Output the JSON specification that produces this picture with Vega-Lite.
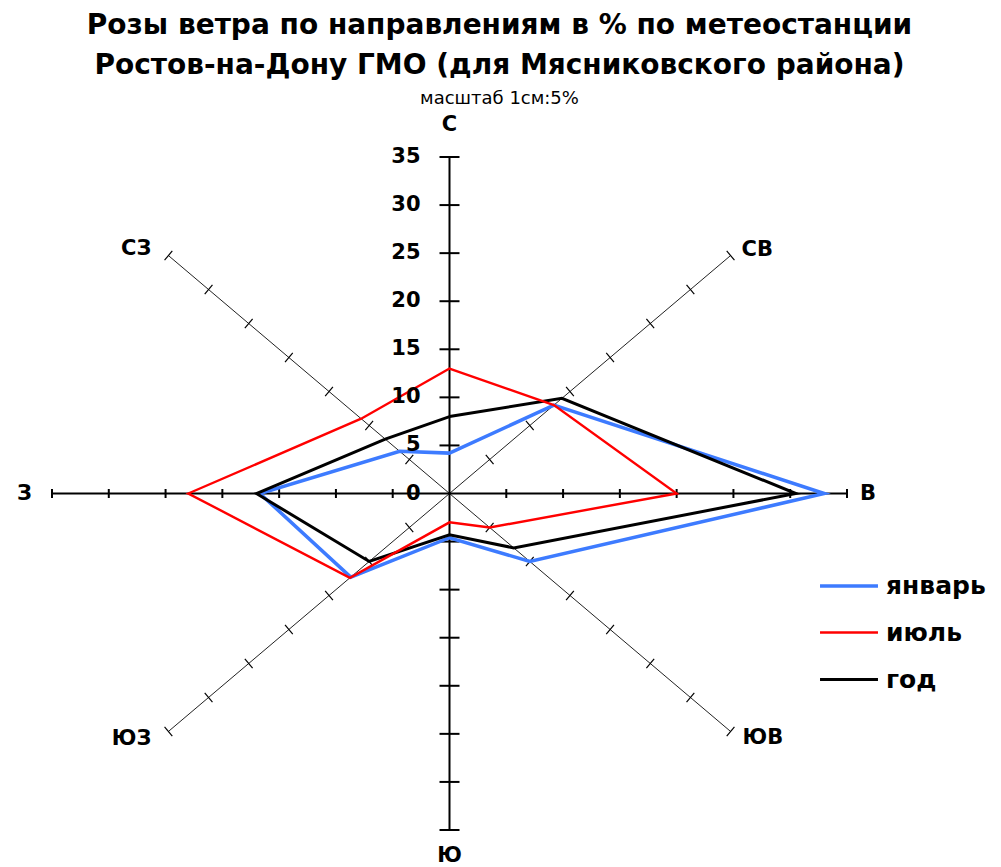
{
  "$schema": "https://vega.github.io/schema/vega-lite/v6.json",
  "width": 795,
  "height": 673,
  "autosize": {"type": "none"},
  "padding": {"left": 52, "top": 157, "right": 154, "bottom": 37},
  "background": "white",
  "config": {"view": {"stroke": null}, "font": "DejaVu Sans"},
  "title": {
    "text": ["Розы ветра по направлениям в % по метеостанции", "Ростов-на-Дону ГМО (для Мясниковского района)"],
    "subtitle": "масштаб 1см:5%",
    "font": "DejaVu Sans",
    "fontSize": 28,
    "fontWeight": "bold",
    "lineHeight": 40,
    "color": "black",
    "subtitleFont": "DejaVu Sans",
    "subtitleFontSize": 18,
    "subtitleColor": "black",
    "subtitlePadding": 10,
    "anchor": "middle",
    "frame": "group",
    "offset": 6,
    "dx": 50
  },
  "datasets": {
    "dirs": [
      {"dir": "С", "angle": 90, "i": 0},
      {"dir": "СВ", "angle": 45, "i": 1},
      {"dir": "В", "angle": 0, "i": 2},
      {"dir": "ЮВ", "angle": -45, "i": 3},
      {"dir": "Ю", "angle": -90, "i": 4},
      {"dir": "ЮЗ", "angle": -135, "i": 5},
      {"dir": "З", "angle": 180, "i": 6},
      {"dir": "СЗ", "angle": 135, "i": 7}
    ],
    "scalemarks": [
      {"v": -35}, {"v": -30}, {"v": -25}, {"v": -20}, {"v": -15}, {"v": -10}, {"v": -5},
      {"v": 0},
      {"v": 5}, {"v": 10}, {"v": 15}, {"v": 20}, {"v": 25}, {"v": 30}, {"v": 35}
    ],
    "rose": [
      {"series": "январь", "dir": "С", "v": 4.2},
      {"series": "январь", "dir": "СВ", "v": 13},
      {"series": "январь", "dir": "В", "v": 33},
      {"series": "январь", "dir": "ЮВ", "v": 10},
      {"series": "январь", "dir": "Ю", "v": 4.6},
      {"series": "январь", "dir": "ЮЗ", "v": 12.3},
      {"series": "январь", "dir": "З", "v": 16.7},
      {"series": "январь", "dir": "СЗ", "v": 6.2},
      {"series": "год", "dir": "С", "v": 8},
      {"series": "год", "dir": "СВ", "v": 14},
      {"series": "год", "dir": "В", "v": 30.5},
      {"series": "год", "dir": "ЮВ", "v": 8},
      {"series": "год", "dir": "Ю", "v": 4.3},
      {"series": "год", "dir": "ЮЗ", "v": 10},
      {"series": "год", "dir": "З", "v": 17},
      {"series": "год", "dir": "СЗ", "v": 8},
      {"series": "июль", "dir": "С", "v": 13},
      {"series": "июль", "dir": "СВ", "v": 13},
      {"series": "июль", "dir": "В", "v": 20},
      {"series": "июль", "dir": "ЮВ", "v": 5},
      {"series": "июль", "dir": "Ю", "v": 3},
      {"series": "июль", "dir": "ЮЗ", "v": 12.4},
      {"series": "июль", "dir": "З", "v": 23},
      {"series": "июль", "dir": "СЗ", "v": 11}
    ]
  },
  "layer": [
    {
      "data": {"name": "dirs"},
      "transform": [
        {"filter": "datum.angle % 90 != 0"},
        {"calculate": "35*cos(datum.angle*PI/180)", "as": "ex"},
        {"calculate": "35*sin(datum.angle*PI/180)", "as": "ey"},
        {"calculate": "0", "as": "ox"}
      ],
      "mark": {"type": "rule", "color": "#222222", "strokeWidth": 1},
      "encoding": {
        "x": {"field": "ox", "type": "quantitative", "scale": {"domain": [-35, 35], "nice": false, "zero": false}, "axis": null},
        "y": {"field": "ox", "type": "quantitative", "scale": {"domain": [-35, 35], "nice": false, "zero": false}, "axis": null},
        "x2": {"field": "ex"},
        "y2": {"field": "ey"}
      }
    },
    {
      "data": {"name": "dirs"},
      "transform": [
        {"filter": "datum.angle % 90 == 0"},
        {"calculate": "35*cos(datum.angle*PI/180)", "as": "fx"},
        {"calculate": "35*sin(datum.angle*PI/180)", "as": "fy"},
        {"calculate": "0", "as": "oz"}
      ],
      "mark": {"type": "rule", "color": "black", "strokeWidth": 2},
      "encoding": {
        "x": {"field": "oz", "type": "quantitative", "scale": {"domain": [-35, 35], "nice": false, "zero": false}, "axis": null},
        "y": {"field": "oz", "type": "quantitative", "scale": {"domain": [-35, 35], "nice": false, "zero": false}, "axis": null},
        "x2": {"field": "fx"},
        "y2": {"field": "fy"}
      }
    },
    {
      "data": {"name": "scalemarks"},
      "transform": [
        {"filter": "datum.v != 0"},
        {"calculate": "0", "as": "vx"},
        {"calculate": "datum.v", "as": "vy"}
      ],
      "mark": {"type": "point", "shape": "stroke", "size": 400, "angle": 0, "strokeWidth": 2, "color": "black", "opacity": 1},
      "encoding": {
        "x": {"field": "vx", "type": "quantitative", "scale": {"domain": [-35, 35], "nice": false, "zero": false}, "axis": null},
        "y": {"field": "vy", "type": "quantitative", "scale": {"domain": [-35, 35], "nice": false, "zero": false}, "axis": null}
      }
    },
    {
      "data": {"name": "scalemarks"},
      "transform": [
        {"filter": "datum.v != 0"},
        {"calculate": "datum.v", "as": "hx"},
        {"calculate": "0", "as": "hy"}
      ],
      "mark": {"type": "point", "shape": "stroke", "size": 81, "angle": 90, "strokeWidth": 2, "color": "black", "opacity": 1},
      "encoding": {
        "x": {"field": "hx", "type": "quantitative", "scale": {"domain": [-35, 35], "nice": false, "zero": false}, "axis": null},
        "y": {"field": "hy", "type": "quantitative", "scale": {"domain": [-35, 35], "nice": false, "zero": false}, "axis": null}
      }
    },
    {
      "data": {"name": "scalemarks"},
      "transform": [
        {"filter": "datum.v != 0"},
        {"calculate": "datum.v*cos(PI/4)", "as": "ax"},
        {"calculate": "datum.v*sin(PI/4)", "as": "ay"}
      ],
      "mark": {"type": "point", "shape": "stroke", "size": 144, "angle": 49.8, "strokeWidth": 1.2, "color": "black", "opacity": 1},
      "encoding": {
        "x": {"field": "ax", "type": "quantitative", "scale": {"domain": [-35, 35], "nice": false, "zero": false}, "axis": null},
        "y": {"field": "ay", "type": "quantitative", "scale": {"domain": [-35, 35], "nice": false, "zero": false}, "axis": null}
      }
    },
    {
      "data": {"name": "scalemarks"},
      "transform": [
        {"filter": "datum.v != 0"},
        {"calculate": "-datum.v*cos(PI/4)", "as": "bx"},
        {"calculate": "datum.v*sin(PI/4)", "as": "by"}
      ],
      "mark": {"type": "point", "shape": "stroke", "size": 144, "angle": -49.8, "strokeWidth": 1.2, "color": "black", "opacity": 1},
      "encoding": {
        "x": {"field": "bx", "type": "quantitative", "scale": {"domain": [-35, 35], "nice": false, "zero": false}, "axis": null},
        "y": {"field": "by", "type": "quantitative", "scale": {"domain": [-35, 35], "nice": false, "zero": false}, "axis": null}
      }
    },
    {
      "data": {"name": "rose"},
      "transform": [
        {"lookup": "dir", "from": {"data": {"name": "dirs"}, "key": "dir", "fields": ["angle", "i"]}},
        {"calculate": "datum.v*cos(datum.angle*PI/180)", "as": "sx"},
        {"calculate": "datum.v*sin(datum.angle*PI/180)", "as": "sy"}
      ],
      "mark": {"type": "line", "interpolate": "linear-closed", "strokeJoin": "miter"},
      "encoding": {
        "x": {"field": "sx", "type": "quantitative", "scale": {"domain": [-35, 35], "nice": false, "zero": false}, "axis": null},
        "y": {"field": "sy", "type": "quantitative", "scale": {"domain": [-35, 35], "nice": false, "zero": false}, "axis": null},
        "order": {"field": "i", "type": "quantitative"},
        "color": {
          "field": "series",
          "type": "nominal",
          "scale": {"domain": ["январь", "июль", "год"], "range": ["#3d7bff", "#ff0000", "#000000"]},
          "legend": {
            "orient": "none",
            "legendX": 772,
            "legendY": 404,
            "title": null,
            "padding": 0,
            "symbolType": "M-1.26,0H1.26",
            "symbolSize": 2116,
            "rowPadding": 9,
            "labelOffset": 12,
            "labelFont": "DejaVu Sans",
            "labelFontSize": 25,
            "labelFontWeight": "bold",
            "labelColor": "black"
          }
        },
        "strokeWidth": {
          "field": "series",
          "type": "nominal",
          "scale": {"type": "ordinal", "domain": ["январь", "июль", "год"], "range": [3.5, 2.4, 3]}
        }
      }
    },
    {
      "data": {"name": "scalemarks"},
      "transform": [
        {"filter": "datum.v >= 0"},
        {"calculate": "0", "as": "lx"},
        {"calculate": "datum.v", "as": "ly"}
      ],
      "mark": {"type": "text", "align": "right", "baseline": "middle", "dx": -29, "font": "DejaVu Sans", "fontSize": 21, "fontWeight": "bold", "color": "black"},
      "encoding": {
        "x": {"field": "lx", "type": "quantitative", "scale": {"domain": [-35, 35], "nice": false, "zero": false}, "axis": null},
        "y": {"field": "ly", "type": "quantitative", "scale": {"domain": [-35, 35], "nice": false, "zero": false}, "axis": null},
        "text": {"field": "v", "type": "nominal"}
      }
    },
    {
      "data": {"name": "dirs"},
      "transform": [
        {"filter": "datum.dir == 'С'"},
        {"calculate": "35*cos(datum.angle*PI/180)", "as": "nx"},
        {"calculate": "35*sin(datum.angle*PI/180)", "as": "ny"}
      ],
      "mark": {"type": "text", "align": "center", "baseline": "middle", "dy": -32, "font": "DejaVu Sans", "fontSize": 21, "fontWeight": "bold", "color": "black"},
      "encoding": {
        "x": {"field": "nx", "type": "quantitative", "scale": {"domain": [-35, 35], "nice": false, "zero": false}, "axis": null},
        "y": {"field": "ny", "type": "quantitative", "scale": {"domain": [-35, 35], "nice": false, "zero": false}, "axis": null},
        "text": {"field": "dir"}
      }
    },
    {
      "data": {"name": "dirs"},
      "transform": [
        {"filter": "datum.dir == 'Ю'"},
        {"calculate": "35*cos(datum.angle*PI/180)", "as": "nx"},
        {"calculate": "35*sin(datum.angle*PI/180)", "as": "ny"}
      ],
      "mark": {"type": "text", "align": "center", "baseline": "middle", "dy": 26, "font": "DejaVu Sans", "fontSize": 21, "fontWeight": "bold", "color": "black"},
      "encoding": {
        "x": {"field": "nx", "type": "quantitative", "scale": {"domain": [-35, 35], "nice": false, "zero": false}, "axis": null},
        "y": {"field": "ny", "type": "quantitative", "scale": {"domain": [-35, 35], "nice": false, "zero": false}, "axis": null},
        "text": {"field": "dir"}
      }
    },
    {
      "data": {"name": "dirs"},
      "transform": [
        {"filter": "datum.dir == 'В'"},
        {"calculate": "35*cos(datum.angle*PI/180)", "as": "nx"},
        {"calculate": "35*sin(datum.angle*PI/180)", "as": "ny"}
      ],
      "mark": {"type": "text", "align": "left", "baseline": "middle", "dx": 13, "font": "DejaVu Sans", "fontSize": 21, "fontWeight": "bold", "color": "black"},
      "encoding": {
        "x": {"field": "nx", "type": "quantitative", "scale": {"domain": [-35, 35], "nice": false, "zero": false}, "axis": null},
        "y": {"field": "ny", "type": "quantitative", "scale": {"domain": [-35, 35], "nice": false, "zero": false}, "axis": null},
        "text": {"field": "dir"}
      }
    },
    {
      "data": {"name": "dirs"},
      "transform": [
        {"filter": "datum.dir == 'СВ'"},
        {"calculate": "35*cos(datum.angle*PI/180)", "as": "nx"},
        {"calculate": "35*sin(datum.angle*PI/180)", "as": "ny"}
      ],
      "mark": {"type": "text", "align": "left", "baseline": "middle", "dx": 11, "dy": -6, "font": "DejaVu Sans", "fontSize": 21, "fontWeight": "bold", "color": "black"},
      "encoding": {
        "x": {"field": "nx", "type": "quantitative", "scale": {"domain": [-35, 35], "nice": false, "zero": false}, "axis": null},
        "y": {"field": "ny", "type": "quantitative", "scale": {"domain": [-35, 35], "nice": false, "zero": false}, "axis": null},
        "text": {"field": "dir"}
      }
    },
    {
      "data": {"name": "dirs"},
      "transform": [
        {"filter": "datum.dir == 'ЮВ'"},
        {"calculate": "35*cos(datum.angle*PI/180)", "as": "nx"},
        {"calculate": "35*sin(datum.angle*PI/180)", "as": "ny"}
      ],
      "mark": {"type": "text", "align": "left", "baseline": "middle", "dx": 12, "dy": 7, "font": "DejaVu Sans", "fontSize": 21, "fontWeight": "bold", "color": "black"},
      "encoding": {
        "x": {"field": "nx", "type": "quantitative", "scale": {"domain": [-35, 35], "nice": false, "zero": false}, "axis": null},
        "y": {"field": "ny", "type": "quantitative", "scale": {"domain": [-35, 35], "nice": false, "zero": false}, "axis": null},
        "text": {"field": "dir"}
      }
    },
    {
      "data": {"name": "dirs"},
      "transform": [
        {"filter": "datum.dir == 'З'"},
        {"calculate": "35*cos(datum.angle*PI/180)", "as": "nx"},
        {"calculate": "35*sin(datum.angle*PI/180)", "as": "ny"}
      ],
      "mark": {"type": "text", "align": "right", "baseline": "middle", "dx": -20, "font": "DejaVu Sans", "fontSize": 21, "fontWeight": "bold", "color": "black"},
      "encoding": {
        "x": {"field": "nx", "type": "quantitative", "scale": {"domain": [-35, 35], "nice": false, "zero": false}, "axis": null},
        "y": {"field": "ny", "type": "quantitative", "scale": {"domain": [-35, 35], "nice": false, "zero": false}, "axis": null},
        "text": {"field": "dir"}
      }
    },
    {
      "data": {"name": "dirs"},
      "transform": [
        {"filter": "datum.dir == 'СЗ'"},
        {"calculate": "35*cos(datum.angle*PI/180)", "as": "nx"},
        {"calculate": "35*sin(datum.angle*PI/180)", "as": "ny"}
      ],
      "mark": {"type": "text", "align": "right", "baseline": "middle", "dx": -17, "dy": -7, "font": "DejaVu Sans", "fontSize": 21, "fontWeight": "bold", "color": "black"},
      "encoding": {
        "x": {"field": "nx", "type": "quantitative", "scale": {"domain": [-35, 35], "nice": false, "zero": false}, "axis": null},
        "y": {"field": "ny", "type": "quantitative", "scale": {"domain": [-35, 35], "nice": false, "zero": false}, "axis": null},
        "text": {"field": "dir"}
      }
    },
    {
      "data": {"name": "dirs"},
      "transform": [
        {"filter": "datum.dir == 'ЮЗ'"},
        {"calculate": "35*cos(datum.angle*PI/180)", "as": "nx"},
        {"calculate": "35*sin(datum.angle*PI/180)", "as": "ny"}
      ],
      "mark": {"type": "text", "align": "right", "baseline": "middle", "dx": -17, "dy": 8, "font": "DejaVu Sans", "fontSize": 21, "fontWeight": "bold", "color": "black"},
      "encoding": {
        "x": {"field": "nx", "type": "quantitative", "scale": {"domain": [-35, 35], "nice": false, "zero": false}, "axis": null},
        "y": {"field": "ny", "type": "quantitative", "scale": {"domain": [-35, 35], "nice": false, "zero": false}, "axis": null},
        "text": {"field": "dir"}
      }
    }
  ]
}
